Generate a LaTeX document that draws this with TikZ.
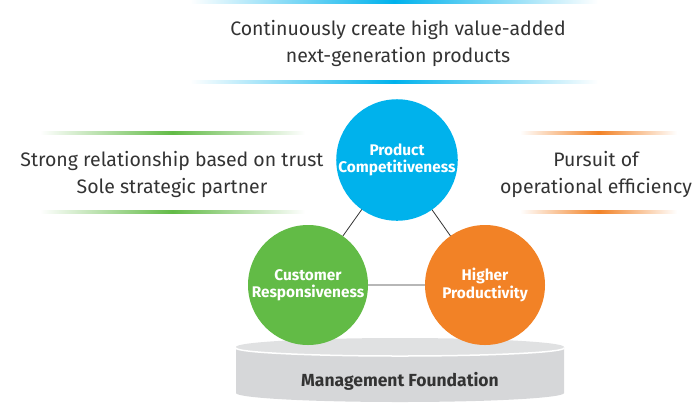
\documentclass[tikz,border=0pt]{standalone}
\usepackage{fontspec}
\setmainfont{Fira Sans}
\definecolor{prodblue}{RGB}{0, 178, 236}
\definecolor{custgreen}{RGB}{98, 187, 70}
\definecolor{prodorange}{RGB}{242, 130, 38}
\definecolor{basegray}{RGB}{214, 215, 217}
\definecolor{textgray}{RGB}{51, 51, 51}
\usetikzlibrary{positioning, backgrounds}

\tikzset{
  pillar/.style={circle, minimum size=120pt, inner sep=0pt, text=white, align=center,
    font=\fontsize{15.4}{17.5}\selectfont\bfseries},
  goal/.style={align=center, text=textgray, font=\fontsize{19.5}{27}\selectfont},
}

\begin{document}
\begin{tikzpicture}[x=1pt, y=-1pt]
  \useasboundingbox (0,0) rectangle (700,405);

  % Management foundation (cylinder)
  \fill[basegray] (236,347) -- (236,393) arc[start angle=180, end angle=360, x radius=164pt, y radius=9pt] -- (564,347) -- cycle;
  \fill[basegray!75] (400,347) ellipse [x radius=164pt, y radius=9pt];
  \draw[white, line width=1.5pt] (236,348) arc[start angle=180, end angle=360, x radius=164pt, y radius=8pt];
  \node[font=\fontsize{17.5}{20}\selectfont\bfseries, text=textgray] (base) at (400,381) {Management Foundation};

  % Three circles
  \node[pillar, fill=prodblue] (prod) at (397,160) {Product\\Competitiveness};
  \node[pillar, fill=custgreen] (cust) at (308,285) {Customer\\Responsiveness};
  \node[pillar, fill=prodorange] (prodty) at (485,285) {Higher\\Productivity};

  \begin{scope}[on background layer]
    \draw[textgray, line width=0.8pt] (prod.center) -- (cust.center) -- (prodty.center) -- cycle;
  \end{scope}

  % Goals with gradient bars
  \node[goal] (top) at (398,43) {Continuously create high value-added\\next-generation products};
  \shade[left color=white, right color=white, middle color=prodblue] (190,0) rectangle (598,3);
  \shade[left color=white, right color=white, middle color=prodblue] (190,80) rectangle (598,83);

  \node[goal] (left) at (172,174) {Strong relationship based on trust\\Sole strategic partner};
  \shade[left color=white, right color=white, middle color=custgreen] (40,131) rectangle (305,134);
  \shade[left color=white, right color=white, middle color=custgreen] (40,210) rectangle (305,213);

  \node[goal] (right) at (596,174) {Pursuit of\\operational efficiency};
  \shade[left color=white, right color=white, middle color=prodorange] (520,131) rectangle (677,134);
  \shade[left color=white, right color=white, middle color=prodorange] (520,210) rectangle (677,213);
\end{tikzpicture}
\end{document}
